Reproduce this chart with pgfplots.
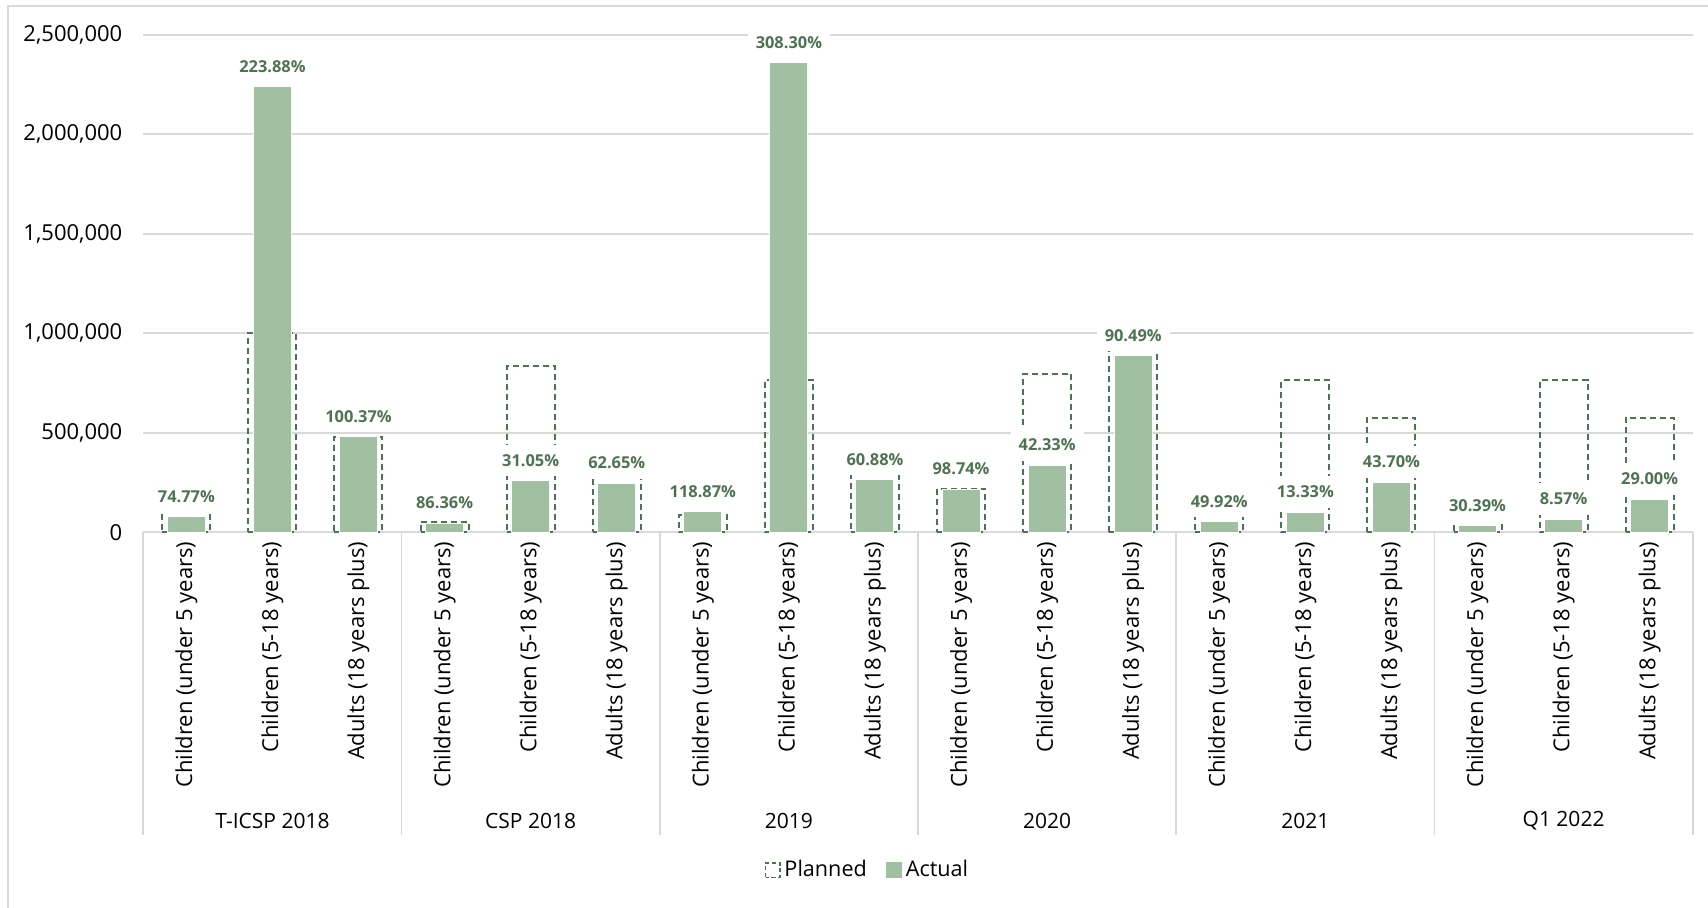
\documentclass[border=0pt]{standalone}
\usepackage{pgfplots}
\usepackage{pgfplotstable}
\pgfplotsset{compat=1.18}
\usepackage{fontspec}
\setmainfont{Open Sans}

\definecolor{actualfill}{RGB}{161,191,161}
\definecolor{planline}{RGB}{78,115,82}
\definecolor{gridgray}{RGB}{217,217,217}

% idx planned actual pct
\pgfplotstableread{
idx planned actual pct
0   107000  80003.9   74.77
1   1000000 2238800   223.88
2   480000  481776    100.37
3   54000   46634.4   86.36
4   835000  259267.5  31.05
5   395000  247467.5  62.65
6   86000   102228.2  118.87
7   765000  2358495   308.30
8   435000  264828    60.88
9   220000  217228    98.74
10  797000  337370.1  42.33
11  980000  886802    90.49
12  107000  53414.4   49.92
13  765000  101974.5  13.33
14  576000  251712    43.70
15  105000  31909.5   30.39
16  765000  65560.5   8.57
17  576000  167040    29.00
}\data

\begin{document}
\begin{tikzpicture}
\path[use as bounding box] (0,0) rectangle (854pt,453.5pt);
\draw[gridgray, line width=1pt] (3.9pt,-5pt) -- (3.9pt,450.65pt) -- (860pt,450.65pt);
\begin{axis}[
  at={(71.65pt,187.35pt)}, anchor=south west,
  scale only axis, width=774.7pt, height=248.8pt,
  xmin=-0.5, xmax=17.5, ymin=0, ymax=2500000,
  clip=false,
  axis lines*=left,
  y axis line style={draw=none},
  x axis line style={draw=gridgray, line width=0.9pt},
  major tick length=0pt,
  ymajorgrids, grid style={gridgray, line width=0.9pt},
  ytick={0,500000,1000000,1500000,2000000,2500000},
  scaled y ticks=false,
  /pgf/number format/.cd, fixed, precision=0, 1000 sep={,}, assume math mode=true,
  /pgfplots/.cd,
  yticklabel style={font=\fontsize{11}{13}\selectfont, text=black, anchor=east, inner sep=0pt, xshift=-10.3pt},
  xtick={0,...,17},
  xticklabels={
    {Children (under 5 years)},{Children (5-18 years)},{Adults (18 years plus)},
    {Children (under 5 years)},{Children (5-18 years)},{Adults (18 years plus)},
    {Children (under 5 years)},{Children (5-18 years)},{Adults (18 years plus)},
    {Children (under 5 years)},{Children (5-18 years)},{Adults (18 years plus)},
    {Children (under 5 years)},{Children (5-18 years)},{Adults (18 years plus)},
    {Children (under 5 years)},{Children (5-18 years)},{Adults (18 years plus)}},
  xticklabel style={font=\fontsize{11}{13}\selectfont, text=black, rotate=90, anchor=east, inner sep=0pt, xshift=-4.5pt},
  legend style={draw=none, fill=none, at={(axis description cs:0.468,-0.6787)}, anchor=center,
    legend columns=-1, font=\fontsize{10.8}{13}\selectfont,
    /tikz/every even column/.append style={column sep=8pt},
    nodes={inner sep=1.8pt}},
]
\addplot[ybar, bar shift=0pt, bar width=24pt, draw=planline, fill=none, line width=1pt,
  dash pattern=on 3pt off 2pt,
  legend image code/.code={\draw[planline, line width=0.7pt, dash pattern=on 2.2pt off 1.2pt] (0pt,-3.6pt) rectangle (7.2pt,3.6pt);}]
  table[x=idx, y=planned] {\data};
\addlegendentry{Planned}
\addplot[ybar, bar shift=0pt, bar width=19pt, fill=actualfill, draw=white, line width=0.5pt,
  point meta=explicit symbolic,
  nodes near coords={\pgfplotspointmeta\%},
  nodes near coords style={font=\fontsize{8.2}{10}\bfseries, text=planline, fill=white,
    inner xsep=4pt, inner ysep=4.8pt, anchor=south, yshift=2pt},
  legend image code/.code={\fill[actualfill] (0pt,-3.7pt) rectangle (7.4pt,3.7pt);}]
  table[x=idx, y=actual, meta=pct] {\data};
\addlegendentry{Actual}
% group separators below the category axis
\pgfplotsinvokeforeach{-0.5,2.5,5.5,8.5,11.5,14.5,17.5}{
  \draw[gridgray, line width=0.9pt] (axis cs:#1,0) -- ++(0pt,-151.35pt);
}
% group names
\begin{scope}[every node/.style={font=\fontsize{10.5}{12}\selectfont, text=black}]
\node at ([yshift=-144.2pt]axis cs:1,0) {T-ICSP 2018};
\node at ([yshift=-144.2pt]axis cs:4,0) {CSP 2018};
\node at ([yshift=-144.2pt]axis cs:7,0) {2019};
\node at ([yshift=-144.2pt]axis cs:10,0) {2020};
\node at ([yshift=-144.2pt]axis cs:13,0) {2021};
\node at ([yshift=-144.2pt]axis cs:16,0) {Q1 2022};
\end{scope}
\end{axis}
\end{tikzpicture}
\end{document}
